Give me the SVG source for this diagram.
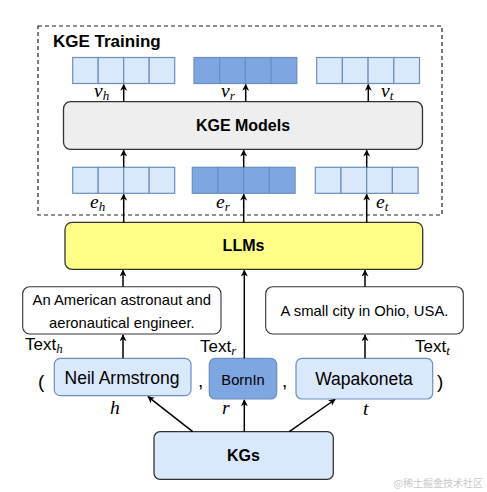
<svg xmlns="http://www.w3.org/2000/svg" width="487" height="492" viewBox="0 0 487 492">
<defs>
<style>
.sans{font-family:"Liberation Sans",Arial,sans-serif;fill:#000}
.b{font-weight:bold}
.math{font-family:"Liberation Serif","Times New Roman",serif;font-style:italic;fill:#000}
.cell{stroke:#6c8ebf;stroke-width:1.2}
.light{fill:#dae8fc}
.dark{fill:#7ea6e0}
.conn{stroke:#000;stroke-width:1.5;fill:none;marker-end:url(#ah)}
</style>
<marker id="ah" viewBox="0 0 10 10" refX="9" refY="5" markerWidth="7" markerHeight="7" markerUnits="userSpaceOnUse" orient="auto">
<path d="M0,0 L10,5 L0,10 L3,5 Z" fill="#000"/>
</marker>
</defs>
<rect width="487" height="492" fill="#fff"/>

<g id="kge-training">
<rect x="38" y="26" width="404" height="189" fill="none" stroke="#222" stroke-width="1.2" stroke-dasharray="4,3"/>
<text class="sans b" x="53" y="47" font-size="17">KGE Training</text>
</g>

<g id="v-h">
<rect class="cell light" x="72.7" y="57.5" width="25.5" height="26"/>
<rect class="cell light" x="98.2" y="57.5" width="25.5" height="26"/>
<rect class="cell light" x="123.7" y="57.5" width="25.5" height="26"/>
<rect class="cell light" x="149.2" y="57.5" width="25.5" height="26"/>
</g>
<g id="v-r">
<rect class="cell dark" x="194" y="57.5" width="25.7" height="26"/>
<rect class="cell dark" x="219.7" y="57.5" width="25.7" height="26"/>
<rect class="cell dark" x="245.4" y="57.5" width="25.7" height="26"/>
<rect class="cell dark" x="271.1" y="57.5" width="25.7" height="26"/>
</g>
<g id="v-t">
<rect class="cell light" x="316.7" y="57.5" width="25.7" height="26"/>
<rect class="cell light" x="342.4" y="57.5" width="25.7" height="26"/>
<rect class="cell light" x="368.1" y="57.5" width="25.7" height="26"/>
<rect class="cell light" x="393.8" y="57.5" width="25.7" height="26"/>
</g>

<g id="kge-models">
<rect x="63.5" y="101.7" width="359" height="47.6" rx="7" fill="#eeeeee" stroke="#333" stroke-width="1.3"/>
<text class="sans b" x="243" y="131" font-size="16" text-anchor="middle">KGE Models</text>
</g>

<g id="e-h">
<rect class="cell light" x="72.7" y="167.3" width="25.5" height="26"/>
<rect class="cell light" x="98.2" y="167.3" width="25.5" height="26"/>
<rect class="cell light" x="123.7" y="167.3" width="25.5" height="26"/>
<rect class="cell light" x="149.2" y="167.3" width="25.5" height="26"/>
</g>
<g id="e-r">
<rect class="cell dark" x="192.3" y="167.3" width="25.7" height="26"/>
<rect class="cell dark" x="218" y="167.3" width="25.7" height="26"/>
<rect class="cell dark" x="243.7" y="167.3" width="25.7" height="26"/>
<rect class="cell dark" x="269.4" y="167.3" width="25.7" height="26"/>
</g>
<g id="e-t">
<rect class="cell light" x="315.3" y="167.3" width="25.7" height="26"/>
<rect class="cell light" x="341" y="167.3" width="25.7" height="26"/>
<rect class="cell light" x="366.7" y="167.3" width="25.7" height="26"/>
<rect class="cell light" x="392.4" y="167.3" width="25.7" height="26"/>
</g>

<g id="llms">
<rect x="65" y="222.3" width="357.7" height="47" rx="7" fill="#ffff88" stroke="#333" stroke-width="1.3"/>
<text class="sans b" x="243.5" y="251" font-size="16" text-anchor="middle">LLMs</text>
</g>

<g id="text-h">
<rect x="22.7" y="286.7" width="198.3" height="47.3" rx="7" fill="#fff" stroke="#333" stroke-width="1.1"/>
<text class="sans" x="121.8" y="305" font-size="14.8" text-anchor="middle">An American astronaut and</text>
<text class="sans" x="121.8" y="328" font-size="14.8" text-anchor="middle">aeronautical engineer.</text>
</g>

<g id="text-t">
<rect x="265.7" y="286.7" width="197.6" height="47.3" rx="7" fill="#fff" stroke="#333" stroke-width="1.1"/>
<text class="sans" x="364.5" y="316" font-size="14.8" text-anchor="middle">A small city in Ohio, USA.</text>
</g>

<g id="neil">
<rect x="54.3" y="358.3" width="136.7" height="37.4" rx="6" fill="#dae8fc" stroke="#6c8ebf" stroke-width="1.2"/>
<text class="sans" x="122" y="383.5" font-size="17.5" text-anchor="middle">Neil Armstrong</text>
</g>
<g id="bornin">
<rect x="209.3" y="358.3" width="67.4" height="40.7" rx="6" fill="#7ea6e0" stroke="#6c8ebf" stroke-width="1.2"/>
<text class="sans" x="243" y="385" font-size="14.7" text-anchor="middle">BornIn</text>
</g>
<g id="wapakoneta">
<rect x="296" y="358.3" width="136.7" height="40.7" rx="6" fill="#dae8fc" stroke="#6c8ebf" stroke-width="1.2"/>
<text class="sans" x="364" y="385" font-size="17.5" text-anchor="middle">Wapakoneta</text>
</g>

<g id="kgs">
<rect x="154" y="431.7" width="179.3" height="47.6" rx="6" fill="#dae8fc" stroke="#333" stroke-width="1.3"/>
<text class="sans b" x="243.5" y="461" font-size="16" text-anchor="middle">KGs</text>
</g>

<g id="punct" class="sans" font-size="19">
<text x="38" y="388">(</text>
<text x="198" y="387">,</text>
<text x="282" y="387">,</text>
<text x="437" y="388">)</text>
</g>

<g id="labels">
<text class="math" x="94" y="97" font-size="19.5">v<tspan font-size="13" dy="3">h</tspan></text>
<text class="math" x="221" y="97" font-size="19.5">v<tspan font-size="13" dy="3">r</tspan></text>
<text class="math" x="381" y="97" font-size="19.5">v<tspan font-size="13" dy="3">t</tspan></text>
<text class="math" x="90" y="208" font-size="19.5">e<tspan font-size="13" dy="3">h</tspan></text>
<text class="math" x="216" y="208" font-size="19.5">e<tspan font-size="13" dy="3">r</tspan></text>
<text class="math" x="376" y="208" font-size="19.5">e<tspan font-size="13" dy="3">t</tspan></text>
<text class="sans" x="25" y="350" font-size="17">Text<tspan class="math" font-size="13" dy="3">h</tspan></text>
<text class="sans" x="200" y="352" font-size="17">Text<tspan class="math" font-size="13" dy="3">r</tspan></text>
<text class="sans" x="415" y="352" font-size="17">Text<tspan class="math" font-size="13" dy="3">t</tspan></text>
<text class="math" x="110" y="414" font-size="19.5">h</text>
<text class="math" x="222" y="414" font-size="19.5">r</text>
<text class="math" x="363" y="415" font-size="19.5">t</text>
</g>

<g id="connectors">
<line class="conn" x1="123.7" y1="101.7" x2="123.7" y2="84.5"/>
<line class="conn" x1="245.7" y1="101.7" x2="245.7" y2="84.5"/>
<line class="conn" x1="368.3" y1="101.7" x2="368.3" y2="84.5"/>
<line class="conn" x1="123.7" y1="167.3" x2="123.7" y2="150.3"/>
<line class="conn" x1="243.7" y1="167.3" x2="243.7" y2="150.3"/>
<line class="conn" x1="366.7" y1="167.3" x2="366.7" y2="150.3"/>
<line class="conn" x1="123.7" y1="222.3" x2="123.7" y2="194.3"/>
<line class="conn" x1="243.7" y1="222.3" x2="243.7" y2="194.3"/>
<line class="conn" x1="366.7" y1="222.3" x2="366.7" y2="194.3"/>
<line class="conn" x1="123" y1="286.7" x2="123" y2="270.3"/>
<line class="conn" x1="365" y1="286.7" x2="365" y2="270.3"/>
<line class="conn" x1="244.3" y1="358.3" x2="244.3" y2="270.3"/>
<line class="conn" x1="123" y1="358.3" x2="123" y2="335"/>
<line class="conn" x1="365" y1="358.3" x2="365" y2="335"/>
<line class="conn" x1="192.7" y1="431.7" x2="148" y2="396.7"/>
<line class="conn" x1="244.3" y1="431.7" x2="244.3" y2="400"/>
<line class="conn" x1="289.3" y1="431.7" x2="335" y2="399.5"/>
</g>

<text x="483" y="487" font-family="'Noto Sans CJK SC',sans-serif" font-size="10" fill="#c8c8c8" text-anchor="end">@稀土掘金技术社区</text>
</svg>
